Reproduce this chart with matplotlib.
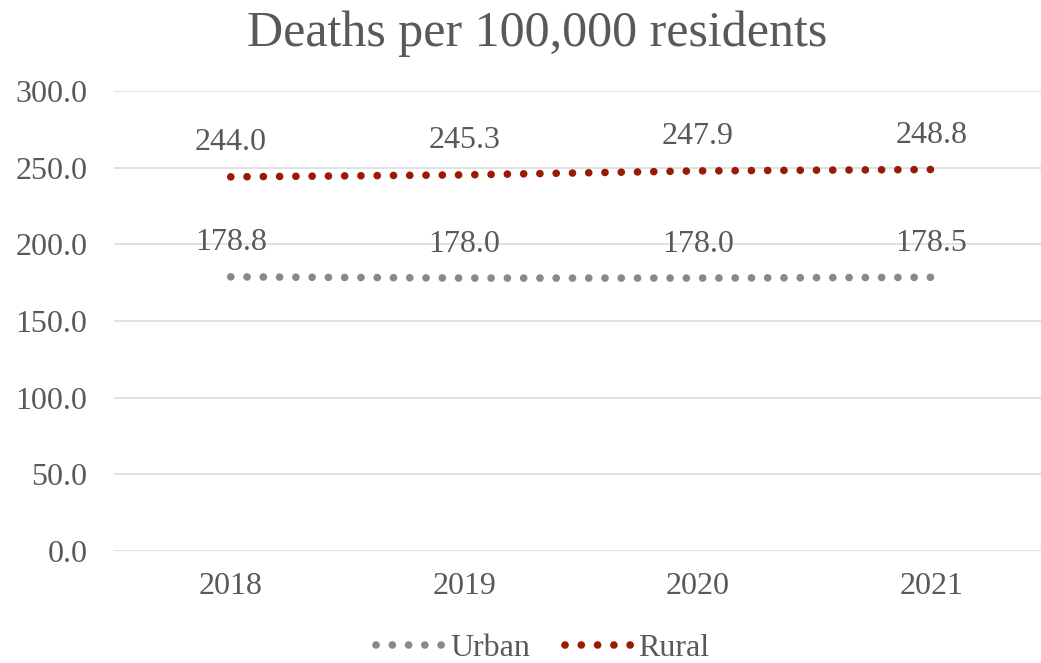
import matplotlib
matplotlib.use("Agg")
import matplotlib.pyplot as plt
from matplotlib.lines import Line2D

years = ["2018", "2019", "2020", "2021"]
urban = [178.8, 178.0, 178.0, 178.5]
rural = [244.0, 245.3, 247.9, 248.8]
yticks = [0, 50, 100, 150, 200, 250, 300]

plt.rcParams['font.family'] = ['Liberation Serif', 'DejaVu Serif']
text_color = '#595959'
urban_color = '#898989'
rural_color = '#9A1A06'
lw = 5.5
dot_style = (0, (0.01, 2.12))

fig = plt.figure(figsize=(10.41, 6.63), dpi=100)
ax = fig.add_axes([114/1041, 1-551/663, 1-114/1041, (551-91)/663])

x = list(range(len(years)))
for vals, col in [(urban, urban_color), (rural, rural_color)]:
    ax.plot(x, vals, color=col, lw=lw, linestyle=dot_style, dash_capstyle='round', solid_capstyle='round')
    for xi, v in zip(x, vals):
        ax.annotate(f"{v:.1f}", (xi, v), xytext=(0, 19), textcoords='offset points',
                    ha='center', va='baseline', fontsize=23, color=text_color)

ax.set_ylim(0, 300)
ax.set_xlim(-0.5, 3.47)
ax.set_yticks(yticks)
ax.set_yticklabels([f"{t:.1f}" for t in yticks])
ax.set_xticks(x)
ax.set_xticklabels(years)
ax.tick_params(axis='both', length=0, labelsize=23, labelcolor=text_color)
ax.tick_params(axis='y', pad=19)
ax.tick_params(axis='x', pad=15)
ax.grid(axis='y', color='#D9D9D9', lw=1.1)
ax.set_axisbelow(True)
for s in ax.spines.values():
    s.set_visible(False)

fig.suptitle("Deaths per 100,000 residents", x=537/1041, y=1-46/663, va='baseline',
             fontsize=36, color=text_color)

handles = [Line2D([], [], color=urban_color, lw=lw, linestyle=dot_style, dash_capstyle='round'),
           Line2D([], [], color=rural_color, lw=lw, linestyle=dot_style, dash_capstyle='round')]
leg = fig.legend(handles, ["Urban", "Rural"], loc='center', bbox_to_anchor=(543/1041, 1-648/663),
                 ncol=2, frameon=False, fontsize=23, handlelength=2.25, handletextpad=0.05,
                 columnspacing=1.1, labelcolor=text_color)

fig.savefig("out.png", dpi=100)
